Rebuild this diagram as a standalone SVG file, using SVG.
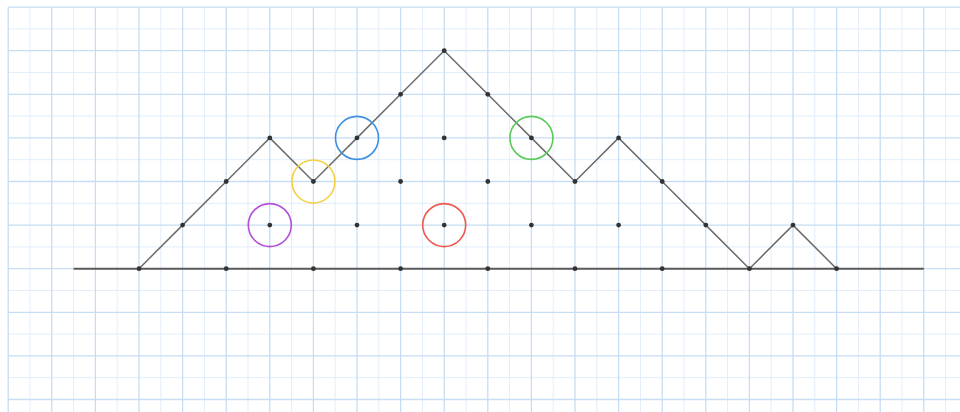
<svg xmlns="http://www.w3.org/2000/svg" width="960" height="412" viewBox="0 0 960 412">
<style>
.minor{stroke:#e2eefb;stroke-width:1;fill:none}
.major{stroke:#c6ddf4;stroke-width:1.3;fill:none}
.path{stroke:#6b6b6b;stroke-width:1.5;fill:none;stroke-linejoin:miter}
.base{stroke:#5a5a5a;stroke-width:2;fill:none}
.dot{fill:#333}
.ring{fill:none;stroke-width:1.6}
</style>
<rect width="960" height="412" fill="#fff"/>
<g id="grid">
<path class="minor" d="M30 7.1V412M73.6 7.1V412M117.2 7.1V412M160.8 7.1V412M204.4 7.1V412M248 7.1V412M291.6 7.1V412M335.2 7.1V412M378.8 7.1V412M422.4 7.1V412M466 7.1V412M509.6 7.1V412M553.2 7.1V412M596.8 7.1V412M640.4 7.1V412M684 7.1V412M727.6 7.1V412M771.2 7.1V412M814.8 7.1V412M858.4 7.1V412M902 7.1V412M945.6 7.1V412M8.2 28.9H960M8.2 72.5H960M8.2 116.1H960M8.2 159.7H960M8.2 203.3H960M8.2 246.9H960M8.2 290.5H960M8.2 334.1H960M8.2 377.7H960"/>
<path class="major" d="M8.2 7.1V412M51.8 7.1V412M95.4 7.1V412M139 7.1V412M182.6 7.1V412M226.2 7.1V412M269.8 7.1V412M313.4 7.1V412M357 7.1V412M400.6 7.1V412M444.2 7.1V412M487.8 7.1V412M531.4 7.1V412M575 7.1V412M618.6 7.1V412M662.2 7.1V412M705.8 7.1V412M749.4 7.1V412M793 7.1V412M836.6 7.1V412M880.2 7.1V412M923.8 7.1V412M8.2 7.1H960M8.2 50.7H960M8.2 94.3H960M8.2 137.9H960M8.2 181.5H960M8.2 225.1H960M8.2 268.7H960M8.2 312.3H960M8.2 355.9H960M8.2 399.5H960"/>
</g>
<g id="connectors">
<path class="base" d="M73.6 268.7H923.8"/>
<path class="path" d="M139 268.7L182.6 225.1L226.2 181.5L269.8 137.9L313.4 181.5L357 137.9L400.6 94.3L444.2 50.7L487.8 94.3L531.4 137.9L575 181.5L618.6 137.9L662.2 181.5L705.8 225.1L749.4 268.7L793 225.1L836.6 268.7"/>
</g>
<g id="dots">
<circle class="dot" cx="139" cy="268.7" r="2.4"/>
<circle class="dot" cx="182.6" cy="225.1" r="2.4"/>
<circle class="dot" cx="226.2" cy="181.5" r="2.4"/>
<circle class="dot" cx="269.8" cy="137.9" r="2.4"/>
<circle class="dot" cx="313.4" cy="181.5" r="2.4"/>
<circle class="dot" cx="357" cy="137.9" r="2.4"/>
<circle class="dot" cx="400.6" cy="94.3" r="2.4"/>
<circle class="dot" cx="444.2" cy="50.7" r="2.4"/>
<circle class="dot" cx="487.8" cy="94.3" r="2.4"/>
<circle class="dot" cx="531.4" cy="137.9" r="2.4"/>
<circle class="dot" cx="575" cy="181.5" r="2.4"/>
<circle class="dot" cx="618.6" cy="137.9" r="2.4"/>
<circle class="dot" cx="662.2" cy="181.5" r="2.4"/>
<circle class="dot" cx="705.8" cy="225.1" r="2.4"/>
<circle class="dot" cx="749.4" cy="268.7" r="2.4"/>
<circle class="dot" cx="793" cy="225.1" r="2.4"/>
<circle class="dot" cx="836.6" cy="268.7" r="2.4"/>
<circle class="dot" cx="444.2" cy="137.9" r="2.4"/>
<circle class="dot" cx="400.6" cy="181.5" r="2.4"/>
<circle class="dot" cx="487.8" cy="181.5" r="2.4"/>
<circle class="dot" cx="269.8" cy="225.1" r="2.4"/>
<circle class="dot" cx="357" cy="225.1" r="2.4"/>
<circle class="dot" cx="444.2" cy="225.1" r="2.4"/>
<circle class="dot" cx="531.4" cy="225.1" r="2.4"/>
<circle class="dot" cx="618.6" cy="225.1" r="2.4"/>
<circle class="dot" cx="226.2" cy="268.7" r="2.4"/>
<circle class="dot" cx="313.4" cy="268.7" r="2.4"/>
<circle class="dot" cx="400.6" cy="268.7" r="2.4"/>
<circle class="dot" cx="487.8" cy="268.7" r="2.4"/>
<circle class="dot" cx="575" cy="268.7" r="2.4"/>
<circle class="dot" cx="662.2" cy="268.7" r="2.4"/>
</g>
<g id="ring-purple"><circle class="ring" cx="269.8" cy="225.1" r="21.5" stroke="#b44fd8"/></g>
<g id="ring-yellow"><circle class="ring" cx="313.4" cy="181.5" r="21.5" stroke="#f4d03f"/></g>
<g id="ring-blue"><circle class="ring" cx="357" cy="137.9" r="21.5" stroke="#3b8fe0"/></g>
<g id="ring-red"><circle class="ring" cx="444.2" cy="225.1" r="21.5" stroke="#f0584c"/></g>
<g id="ring-green"><circle class="ring" cx="531.4" cy="137.9" r="21.5" stroke="#5acb5a"/></g>
</svg>
